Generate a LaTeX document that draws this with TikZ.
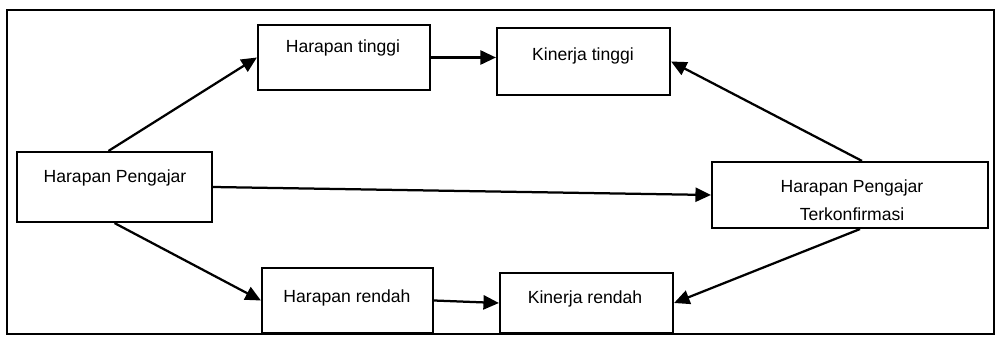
\documentclass[tikz,border=0pt]{standalone}
\usepackage{fontspec}
\setmainfont{Liberation Sans}
\usetikzlibrary{arrows.meta}
\begin{document}
\begin{tikzpicture}[x=0.025cm,y=-0.025cm,
  box/.style={draw,line width=1.5pt,inner sep=0pt,rectangle},
  txt/.style={anchor=base,inner sep=0pt,font=\fontsize{12.5}{15}\selectfont},
  arr/.style={line width=1.6pt,-{Triangle[length=11pt,width=10pt]}}]
\useasboundingbox (0,0) rectangle (1000,341);
\draw[line width=1.4pt] (7,10) rectangle (994,334);
% boxes
\node[box,minimum width=4.3cm,minimum height=1.625cm] (ht) at (344,57.5) {};
\node[box,minimum width=4.325cm,minimum height=1.675cm] (kt) at (583.5,61.5) {};
\node[box,minimum width=4.875cm,minimum height=1.75cm] (hp) at (114.5,187) {};
\node[box,minimum width=6.9cm,minimum height=1.65cm] (hpt) at (850,195) {};
\node[box,minimum width=4.275cm,minimum height=1.625cm] (hr) at (347.5,300.5) {};
\node[box,minimum width=4.325cm,minimum height=1.5cm] (kr) at (586.5,303) {};
% texts
\node[txt] (htt) at (343,53) {Harapan tinggi};
\node[txt] (ktt) at (583,61) {Kinerja tinggi};
\node[txt] (hpt0) at (115,182) {Harapan Pengajar};
\node[txt] (hpta) at (852,192) {Harapan Pengajar};
\node[txt] (hptb) at (852,220) {Terkonfirmasi};
\node[txt] (hrt) at (347,302) {Harapan rendah};
\node[txt] (krt) at (585,303) {Kinerja rendah};
% connectors
\draw[arr] ([xshift=-6*0.025cm]hp.north) -- (ht.west);
\draw[arr] (ht.east) -- (ht.east -| kt.west);
\draw[arr] (hp.east) -- (hpt.west);
\draw[arr] (hp.south) -- (hr.west);
\draw[arr] (hr.east) -- (kr.west);
\draw[arr] ([xshift=12*0.025cm]hpt.north) -- (kt.east);
\draw[arr] ([xshift=10*0.025cm]hpt.south) -- (kr.east);
\end{tikzpicture}
\end{document}
